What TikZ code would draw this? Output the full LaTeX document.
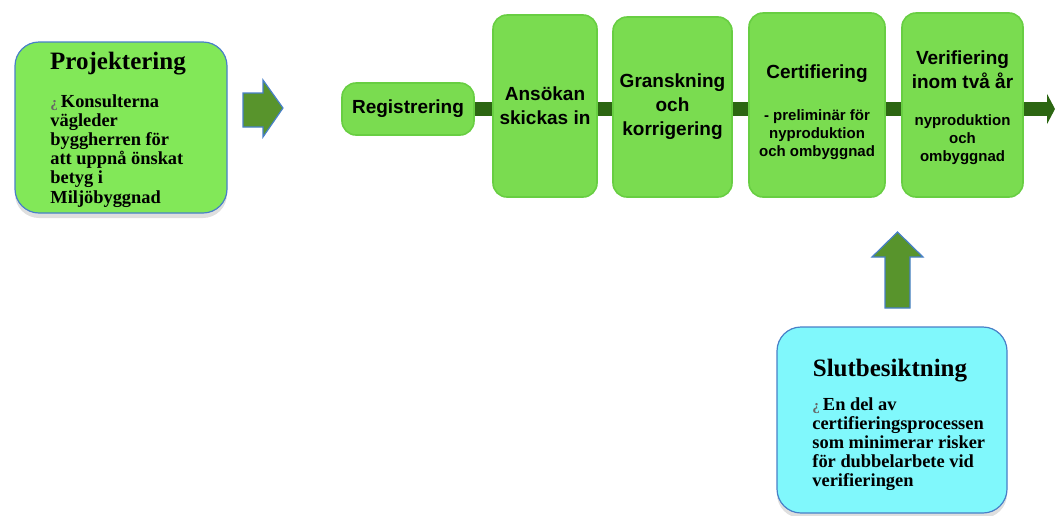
\documentclass[tikz,border=0pt]{standalone}
\usepackage{fontspec}
\setmainfont{Liberation Serif}
\setsansfont{Liberation Sans}
\usetikzlibrary{arrows.meta,shadows}

\definecolor{boxgreen}{RGB}{122,220,80}
\definecolor{boxedge}{RGB}{104,206,66}
\definecolor{notegreen}{RGB}{130,232,88}
\definecolor{notecyan}{RGB}{128,248,252}
\definecolor{noteedge}{RGB}{72,128,200}
\definecolor{bargreen}{RGB}{44,102,18}
\definecolor{blockgreen}{RGB}{88,148,44}

\newcommand\bulletmark{{\fontsize{7.5}{7.5}\selectfont\color{black!60}¿}\,}

\begin{document}
\begin{tikzpicture}[x=0.5pt,y=-0.5pt,
  flowbox/.style={draw=boxedge, line width=0.8pt, fill=boxgreen, rounded corners=7pt, inner sep=0pt, align=center, font=\sffamily\bfseries\fontsize{9.5}{12}\selectfont},
  flownote/.style={align=center, inner sep=0pt, font=\sffamily\bfseries\fontsize{7.5}{9}\selectfont},
  notebox/.style={draw=noteedge, line width=0.6pt, rounded corners=12pt, drop shadow={opacity=0.25, shadow xshift=0pt, shadow yshift=-2.5pt}},
  notetitle/.style={inner sep=0pt, font=\bfseries\fontsize{12.5}{14}\selectfont},
  notetext/.style={inner sep=0pt, align=left, anchor=north west, font=\bfseries\fontsize{9.2}{9.6}\selectfont},
  bar/.style={draw=bargreen, line width=7pt},
  blockarrow/.style={draw=noteedge, line width=0.6pt, fill=blockgreen}
]
    \useasboundingbox (0,0) rectangle (1055,515); % picture frame

    % Projektering note
    \node[notebox, fill=notegreen, minimum width=106pt, minimum height=85.5pt] (proj) at (121,127.5) {};
    \node[notetitle] (projtitle) at (118,64) {Projektering};
    \node[notetext] (projtext) at (50,94) {\bulletmark Konsulterna\\vägleder\\byggherren för\\att uppnå önskat\\betyg i\\Miljöbyggnad};

    % Block arrow towards the flow
    \draw[blockarrow] (243,93) -- (263,93) -- (263,80) -- (283,108) -- (263,137) -- (263,127) -- (243,127) -- cycle;

    % Flow boxes
    \node[flowbox, minimum width=66pt, minimum height=26pt] (reg) at (408,109) {Registrering};
    \node[flowbox, minimum width=52pt, minimum height=91pt] (ans) at (545,106) {Ansökan\\skickas in};
    \node[flowbox, minimum width=59.5pt, minimum height=90pt] (gran) at (672.5,107) {Granskning\\och\\korrigering};
    \node[flowbox, minimum width=68pt, minimum height=92pt] (cert) at (817,105) {};
    \node[flowbox, minimum width=60.5pt, minimum height=92pt] (ver) at (962.5,105) {};

    % Texts in the last two boxes
    \node[flowbox, draw=none, fill=none] (certtitle) at (817,74) {Certifiering};
    \node[flownote] (certnote) at (817,135) {- preliminär för\\nyproduktion\\och ombyggnad};
    \node[flowbox, draw=none, fill=none] (vertitle) at (962.5,70) {Verifiering\\inom två år};
    \node[flownote] (vernote) at (962.5,140) {nyproduktion\\och\\ombyggnad};

    % Bar between the boxes
    \foreach \a/\b in {reg/ans, ans/gran, gran/cert, cert/ver}
        \draw[bar] (\a.east |- reg.east) -- (\b.west |- reg.east);
    \coordinate (barend) at (1055,109);
    \draw[bar, -{Triangle[width=15pt,length=4pt]}] (ver.east |- reg.east) -- (barend); % out to the right

    % Slutbesiktning note
    \node[notebox, fill=notecyan, minimum width=115pt, minimum height=93pt] (slut) at (892,420) {};
    \node[notetitle] (sluttitle) at (890,371) {Slutbesiktning};
    \node[notetext] (sluttext) at (812,397) {\bulletmark En del av\\certifieringsprocessen\\som minimerar risker\\för dubbelarbete vid\\verifieringen};

    % Block arrow up to Verifiering
    \draw[blockarrow] (885,308) -- (885,257) -- (872,257) -- (897.5,232) -- (923,257) -- (910,257) -- (910,308) -- cycle;
\end{tikzpicture}
\end{document}
